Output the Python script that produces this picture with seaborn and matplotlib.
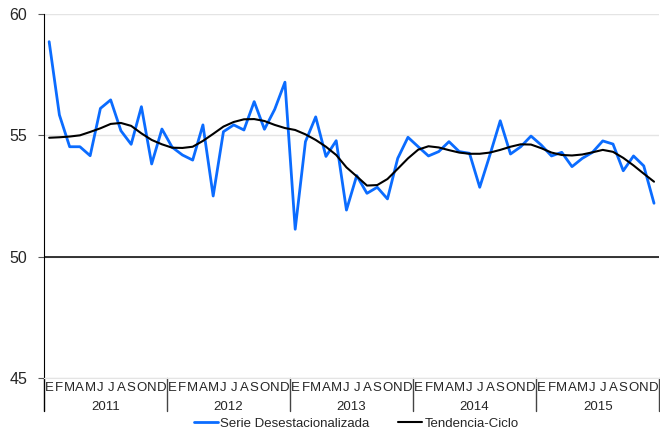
import pandas as pd
import matplotlib
matplotlib.use("Agg")
import matplotlib.pyplot as plt
import matplotlib.transforms as mtransforms
import seaborn as sns

# Values (monthly, Jan 2011 - Dec 2015)
years = ["2011", "2012", "2013", "2014", "2015"]
month_letters = ["E", "F", "M", "A", "M", "J", "J", "A", "S", "O", "N", "D"]

serie_desest = [
    58.86, 55.84, 54.53, 54.53, 54.16, 56.11, 56.46, 55.19, 54.63, 56.18, 53.82, 55.26,
    54.51, 54.19, 53.98, 55.43, 52.50, 55.15, 55.43, 55.22, 56.39, 55.25, 56.07, 57.19,
    51.13, 54.74, 55.76, 54.13, 54.78, 51.92, 53.34, 52.61, 52.86, 52.38, 54.05, 54.92,
    54.53, 54.15, 54.33, 54.74, 54.33, 54.26, 52.86, 54.20, 55.60, 54.23, 54.53, 54.97,
    54.60, 54.15, 54.30, 53.71, 54.05, 54.30, 54.77, 54.64, 53.54, 54.15, 53.74, 52.20,
]
tendencia_ciclo = [
    54.90, 54.92, 54.95, 55.00, 55.14, 55.29, 55.47, 55.51, 55.39, 55.08, 54.81, 54.63,
    54.49, 54.48, 54.53, 54.77, 55.06, 55.36, 55.55, 55.66, 55.67, 55.59, 55.43, 55.30,
    55.22, 55.04, 54.81, 54.53, 54.19, 53.68, 53.31, 52.93, 52.95, 53.20, 53.62, 54.05,
    54.41, 54.55, 54.50, 54.39, 54.29, 54.24, 54.24, 54.29, 54.40, 54.53, 54.63, 54.62,
    54.47, 54.29, 54.19, 54.17, 54.21, 54.30, 54.40, 54.32, 54.07, 53.76, 53.42, 53.09,
]

n = len(serie_desest)
df = pd.DataFrame({
    "pos": list(range(n)) * 2,
    "valor": serie_desest + tendencia_ciclo,
    "serie": ["Serie Desestacionalizada"] * n + ["Tendencia-Ciclo"] * n,
})

sns.set_style("white")
plt.rcParams["font.family"] = ["Liberation Sans", "DejaVu Sans"]

fig = plt.figure(figsize=(6.6, 4.32), dpi=100)
ax = fig.add_axes([0.0667, 0.125, 0.932, 0.8426])

sns.lineplot(data=df, x="pos", y="valor", hue="serie",
             palette={"Serie Desestacionalizada": "#0B6CFF", "Tendencia-Ciclo": "black"},
             ax=ax, legend=False, zorder=3)
for line, lw in zip(ax.get_lines(), [2.0, 1.5]):
    line.set_linewidth(lw)

ax.set_xlim(-0.5, n - 0.5)
ax.set_ylim(45, 60)
ax.set_yticks([45, 50, 55, 60])
ax.yaxis.grid(True, color="#e4e4e4", linewidth=1.0)
ax.set_axisbelow(True)
ax.axhline(50, color="black", linewidth=1.1, zorder=2)

ax.set_xticks(range(n))
ax.set_xticklabels(month_letters * len(years), fontsize=9.5)
ax.tick_params(axis="x", length=0, pad=3)
ax.tick_params(axis="y", length=4, color="#555555", left=True, labelsize=11.5, pad=8)
ax.set_xlabel("")
ax.set_ylabel("")

for side in ["top", "right"]:
    ax.spines[side].set_visible(False)
ax.spines["bottom"].set_color("#e4e4e4")
ax.spines["left"].set_color("black")

# year labels and separators below the axis
trans = mtransforms.blended_transform_factory(ax.transData, ax.transAxes)
for i, yr in enumerate(years):
    ax.text(i * 12 + 5.5, -0.08, yr, transform=trans, ha="center", va="center", fontsize=9.5)
for i in range(len(years) + 1):
    x = i * 12 - 0.5
    ax.plot([x, x], [0, -0.09], transform=trans, color="#444444" if i else "black",
            linewidth=1.0, clip_on=False)

handles = [plt.Line2D([], [], color="#0B6CFF", lw=2.0),
           plt.Line2D([], [], color="black", lw=1.5)]
fig.legend(handles, ["Serie Desestacionalizada", "Tendencia-Ciclo"], loc="lower center",
           bbox_to_anchor=(0.54, -0.022), ncol=2, frameon=False, fontsize=9.5,
           handlelength=1.8, handletextpad=0.2, columnspacing=2.2)

fig.savefig("out.png", dpi=100)
